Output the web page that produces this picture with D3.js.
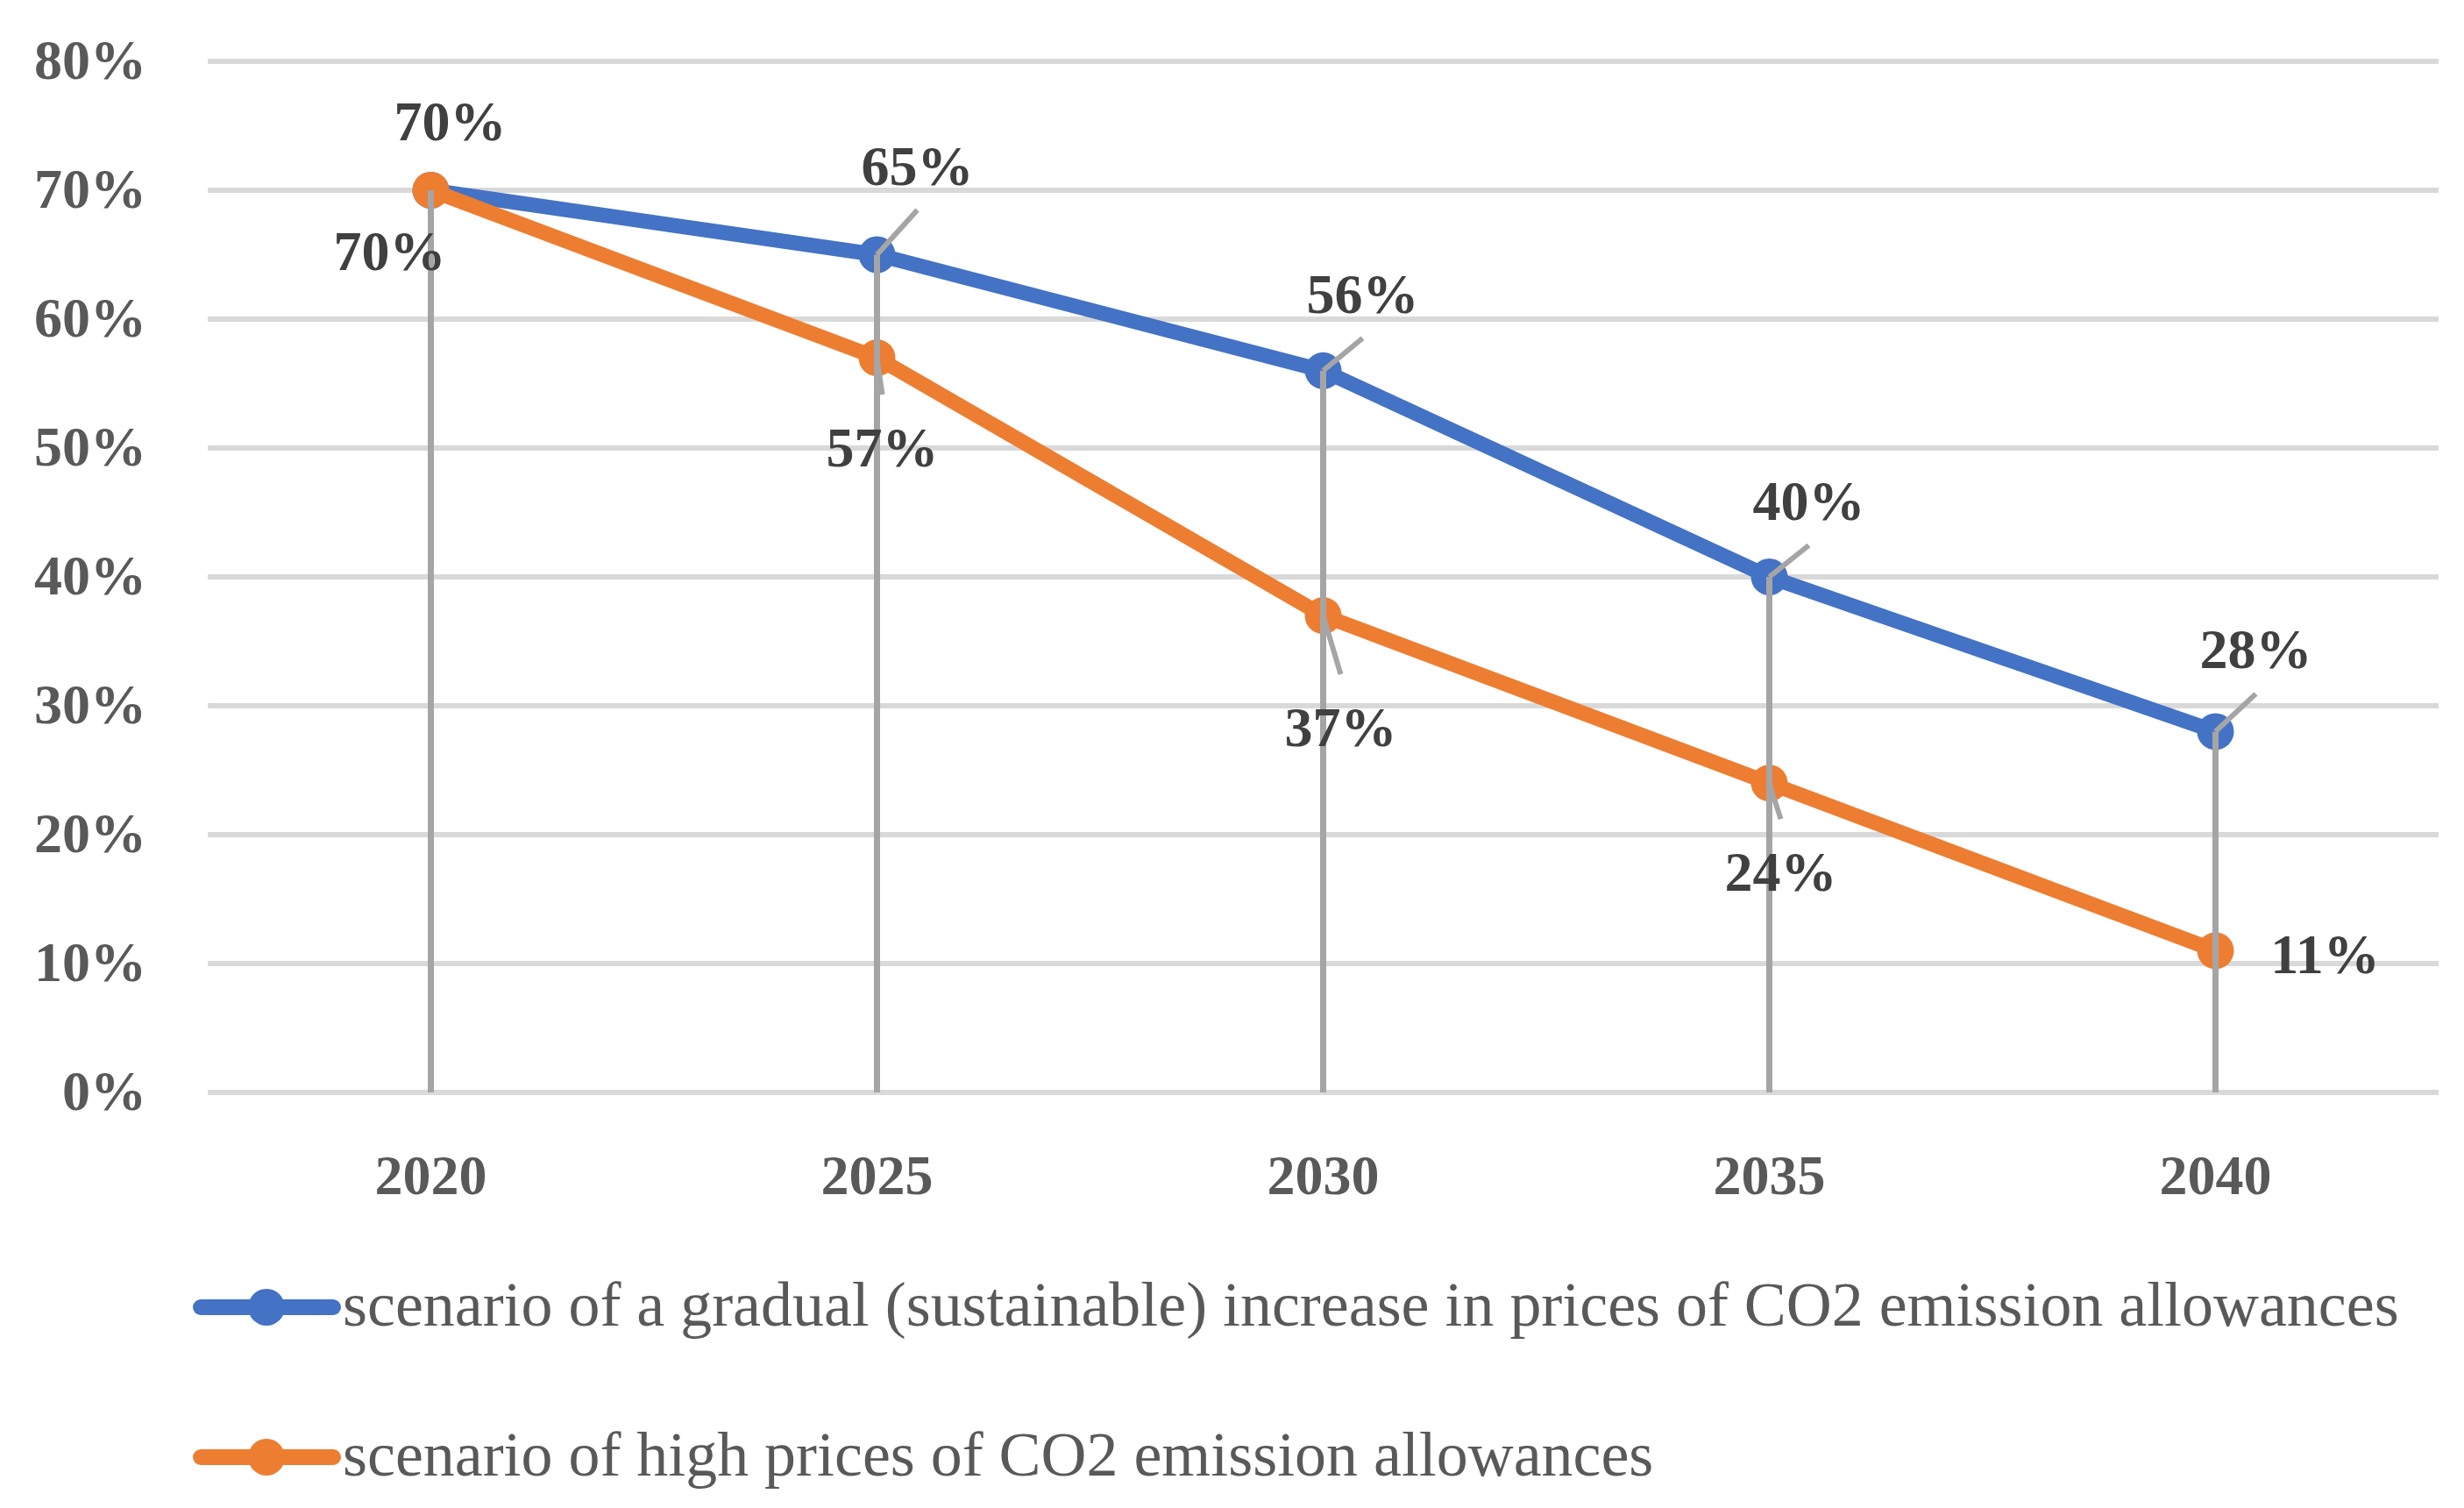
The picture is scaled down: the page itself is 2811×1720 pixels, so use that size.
<!DOCTYPE html>
<html>
<head>
<meta charset="utf-8">
<script src="https://cdn.jsdelivr.net/npm/d3@7"></script>
<style>
  html, body { margin: 0; padding: 0; background: #fff; }
  svg { display: block; }
</style>
</head>
<body>
<div class="canvas"></div>
<script>
// data
const years = ['2020', '2025', '2030', '2035', '2040'];
const gradual = [0.70, 0.65, 0.56, 0.40, 0.28];
const high = [0.70, 0.57, 0.37, 0.24, 0.11];
const yTicks = [0, 0.1, 0.2, 0.3, 0.4, 0.5, 0.6, 0.7, 0.8];
const seriesNames = [
  'scenario of a gradual (sustainable) increase in prices of CO2 emission allowances',
  'scenario of high prices of CO2 emission allowances'
];

// layout
const dims = { width: 2811, height: 1720 };
const plot = { left: 237, right: 2782, top: 70, bottom: 1246 };
const colors = ['#4472C4', '#ED7D31'];

// label offsets from the point (centre x, baseline y) and whether a leader line is drawn
const labelLayout = [
  [
    { dx: 22, dy: -57, leader: false },
    { dx: 46, dy: -80, leader: true },
    { dx: 45, dy: -66, leader: true },
    { dx: 45, dy: -65, leader: true },
    { dx: 46, dy: -72, leader: true }
  ],
  [
    { dx: -47, dy: 91, leader: false },
    { dx: 6, dy: 124, leader: true },
    { dx: 20, dy: 149, leader: true },
    { dx: 13, dy: 123, leader: true },
    { dx: 125, dy: 26, leader: false }
  ]
];

const svg = d3.select('.canvas')
  .append('svg')
  .attr('width', dims.width)
  .attr('height', dims.height);

const x = d3.scaleBand()
  .domain(years)
  .range([plot.left, plot.right]);

const y = d3.scaleLinear()
  .domain([0, 0.8])
  .range([plot.bottom, plot.top]);

const cx = d => x(d) + x.bandwidth() / 2;

// gridlines
svg.append('g')
  .selectAll('line')
  .data(yTicks)
  .enter()
  .append('line')
    .attr('x1', plot.left)
    .attr('x2', plot.right)
    .attr('y1', d => y(d))
    .attr('y2', d => y(d))
    .attr('stroke', '#D9D9D9')
    .attr('stroke-width', 6);

// y axis
const yAxis = d3.axisLeft(y)
  .tickValues(yTicks)
  .tickFormat(d3.format('.0%'))
  .tickSize(0)
  .tickPadding(70);

const yAxisGroup = svg.append('g')
  .attr('transform', `translate(${plot.left}, 0)`)
  .call(yAxis);

yAxisGroup.select('.domain').remove();
yAxisGroup.selectAll('text')
  .attr('font-family', '"Liberation Serif", "Times New Roman", serif')
  .attr('font-weight', 'bold')
  .attr('font-size', 64)
  .attr('fill', '#595959')
  .attr('dy', '0.3em');

// x axis
const xAxis = d3.axisBottom(x).tickSize(0);

const xAxisGroup = svg.append('g')
  .attr('transform', `translate(0, ${plot.bottom})`)
  .call(xAxis);

xAxisGroup.select('.domain').remove();
xAxisGroup.selectAll('text')
  .attr('font-family', '"Liberation Serif", "Times New Roman", serif')
  .attr('font-weight', 'bold')
  .attr('font-size', 64)
  .attr('fill', '#595959')
  .attr('y', 116)
  .attr('dy', 0);

// series lines and markers
const series = [gradual, high];

const line = d3.line()
  .x((d, i) => cx(years[i]))
  .y(d => y(d));

series.forEach((values, s) => {
  svg.append('path')
    .datum(values)
    .attr('fill', 'none')
    .attr('stroke', colors[s])
    .attr('stroke-width', 17)
    .attr('stroke-linejoin', 'round')
    .attr('d', line);

  svg.append('g')
    .selectAll('circle')
    .data(values)
    .enter()
    .append('circle')
      .attr('cx', (d, i) => cx(years[i]))
      .attr('cy', d => y(d))
      .attr('r', 21)
      .attr('fill', colors[s]);
});

// drop lines
svg.append('g')
  .selectAll('line')
  .data(years)
  .enter()
  .append('line')
    .attr('x1', d => cx(d))
    .attr('x2', d => cx(d))
    .attr('y1', (d, i) => y(Math.max(gradual[i], high[i])))
    .attr('y2', y(0))
    .attr('stroke', '#A5A5A5')
    .attr('stroke-width', 7);

// data labels and leader lines
series.forEach((values, s) => {
  values.forEach((v, i) => {
    const lay = labelLayout[s][i];
    const px = cx(years[i]);
    const py = y(v);
    const lx = px + lay.dx;
    const ly = py + lay.dy;

    if (lay.leader) {
      const ey = s === 0 ? ly + 29 : ly - 82;
      svg.append('line')
        .attr('x1', px)
        .attr('y1', py)
        .attr('x2', lx)
        .attr('y2', ey)
        .attr('stroke', '#A5A5A5')
        .attr('stroke-width', 6);
    }

    svg.append('text')
      .attr('x', lx)
      .attr('y', ly)
      .attr('text-anchor', 'middle')
      .attr('font-family', '"Liberation Serif", "Times New Roman", serif')
      .attr('font-weight', 'bold')
      .attr('font-size', 64)
      .attr('fill', '#404040')
      .text(d3.format('.0%')(v));
  });
});

// legend
const legend = svg.append('g');
const legendRows = [1491, 1662];
const legendTargetWidth = 2346;

seriesNames.forEach((name, s) => {
  const row = legend.append('g')
    .attr('transform', `translate(0, ${legendRows[s]})`);

  row.append('line')
    .attr('x1', 229)
    .attr('x2', 380)
    .attr('stroke', colors[s])
    .attr('stroke-width', 18)
    .attr('stroke-linecap', 'round');

  row.append('circle')
    .attr('cx', 304)
    .attr('r', 21)
    .attr('fill', colors[s]);

  row.append('text')
    .attr('class', 'legend-text')
    .attr('x', 391)
    .attr('y', 21)
    .attr('font-family', '"Liberation Serif", "Times New Roman", serif')
    .attr('font-size', 68)
    .attr('fill', '#595959')
    .text(name);
});

// fit legend font so the first entry spans the same width as the original
const first = legend.select('.legend-text').node();
const fitSize = 68 * legendTargetWidth / first.getComputedTextLength();
legend.selectAll('.legend-text').attr('font-size', fitSize);
</script>
</body>
</html>
